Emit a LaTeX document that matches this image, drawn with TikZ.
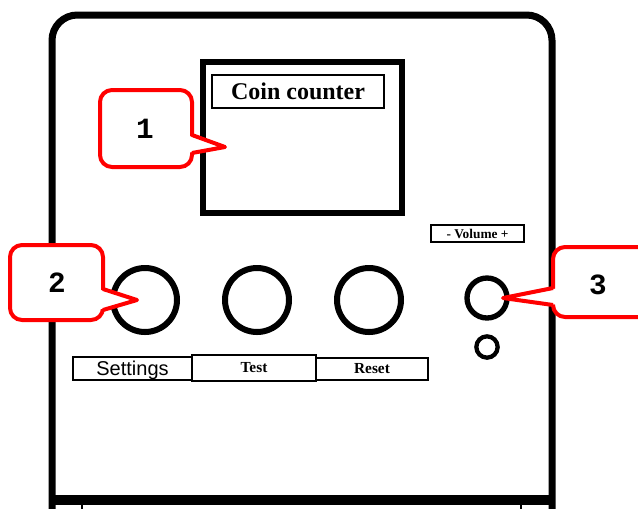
\documentclass[tikz,border=0pt]{standalone}
\usepackage{fontspec}
\setmainfont{Liberation Serif}
\setsansfont{Liberation Sans}
\setmonofont{Liberation Mono}
\usetikzlibrary{positioning}

\tikzset{
  frame/.style={line width=5.25pt, rounded corners=19pt},
  screen/.style={line width=4.5pt},
  labelbox/.style={draw=black, line width=1.5pt, inner sep=0pt, outer sep=0pt},
  knob/.style={circle, draw=black, line width=4.5pt, inner sep=0pt, outer sep=0pt},
  callout/.style={draw=red, line width=3pt, fill=white, rounded corners=9pt},
  pointer/.style={draw=red, line width=3pt, line join=round},
  calloutnum/.style={font=\ttfamily\bfseries\fontsize{22}{24}\selectfont}
}

\begin{document}
\begin{tikzpicture}[x=0.75pt,y=-0.75pt]
\useasboundingbox (0,0) rectangle (638,508);
\clip (0,0) rectangle (638,508);
\fill[white] (0,0) rectangle (638,508);
% housing
\draw[frame] (52,512) -- (52,15) -- (552,15) -- (552,512);
\draw[line width=7.5pt] (50,500) -- (554,500);
\draw[line width=2.2pt] (82,504) -- (82,510);
\draw[line width=2.2pt] (521,504) -- (521,510);
% display
\draw[screen] (203,62) rectangle (402,213);
\node[labelbox, minimum width=129pt, minimum height=24.75pt] (title) at (298,91.5) {};
\node[font=\bfseries\fontsize{18}{20}\selectfont] (titletext) at (title.center) {Coin counter};
% buttons
\node[knob, minimum size=48pt] (settingsbtn) at (145,300) {};
\node[knob, minimum size=48pt] (testbtn) at (257,300) {};
\node[knob, minimum size=48pt] (resetbtn) at (369,300) {};
\node[knob, minimum size=30pt, line width=4pt] (volknob) at (487,298) {};
\node[knob, minimum size=16pt, line width=3.2pt] (jack) at (487,347) {};
% button labels
\node[labelbox, minimum width=89.25pt, minimum height=17.25pt] (settingslbl) at (132.5,368.5) {};
\node[font=\sffamily\fontsize{15}{17}\selectfont] at ([yshift=-1pt]settingslbl.center) {Settings};
\node[labelbox, minimum width=93pt, minimum height=19pt] (testlbl) at (254,368) {};
\node[font=\bfseries\fontsize{11.5}{13}\selectfont] at (testlbl.center) {Test};
\node[labelbox, minimum width=84pt, minimum height=16.5pt] (resetlbl) at (372,369) {};
\node[font=\bfseries\fontsize{11.5}{13}\selectfont] at (resetlbl.center) {Reset};
\node[labelbox, minimum width=69.75pt, minimum height=12.75pt] (vollbl) at (477.5,233.5) {};
\node[font=\bfseries\fontsize{10}{12}\selectfont] at (vollbl.center) {-\ Volume\ +};
% callouts
\draw[callout] (100,90) rectangle (192,167);
\fill[white] (186,135) -- (225,147) -- (186,153) -- cycle;
\draw[pointer] (192,135) -- (225,147) -- (192,153);
\node[calloutnum] (c1) at (145,129) {1};
\draw[callout] (10,245) rectangle (103,320);
\fill[white] (97,289) -- (137,300) -- (97,310) -- cycle;
\draw[pointer] (103,289) -- (137,300) -- (103,310);
\node[calloutnum] (c2) at (57,283) {2};
\draw[callout] (553,247) rectangle (660,317);
\fill[white] (559,288) -- (503,298) -- (559,305) -- cycle;
\draw[pointer] (553,288) -- (503,298) -- (553,305);
\node[calloutnum] (c3) at (598,285) {3};
\end{tikzpicture}
\end{document}
